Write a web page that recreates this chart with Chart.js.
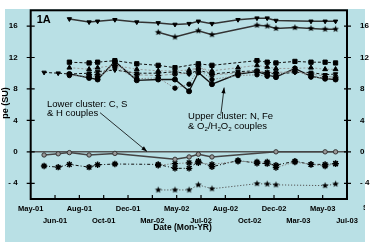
<!DOCTYPE html>
<html>
<head>
<meta charset="utf-8">
<script src="https://cdn.jsdelivr.net/npm/chart.js@4"></script>
<style>
  html, body { margin: 0; padding: 0; background: #fff; }
  #wrap { position: relative; width: 382px; height: 242px; overflow: hidden; }
  #bg { position: absolute; left: 5px; top: 9px; width: 360px; height: 233px; background: #b9e0e5; }
  #chart { position: absolute; left: 0; top: 0; }
</style>
</head>
<body>
<div id="wrap">
  <div id="bg"></div>
  <canvas id="chart" width="382" height="242"></canvas>
</div>
<script>
const X_TICK_LABELS = [
  "May-01", "Jun-01", "Aug-01", "Oct-01", "Dec-01", "Mar-02", "May-02",
  "Jul-02", "Aug-02", "Oct-02", "Dec-02", "Mar-03", "May-03", "Jul-03", "Sep-03"
];
const Y_TICKS = [-4, 0, 4, 8, 12, 16];
const Y_TICK_LABELS = ["- 4", "0", "4", "8", "12", "16"];

// sampling dates, in axis tick units (0 = May-01 ... 13 = Jul-03)
const SAMPLE_X = [0.55, 1.13, 1.59, 2.40, 2.75, 3.46, 4.36, 5.24, 5.93, 6.51,
                  6.89, 7.45, 8.52, 9.30, 9.72, 10.08, 10.86, 11.52, 12.10, 12.53];

// upper cluster
const topTri     = [null, null, 16.9, 16.5, 16.6, 16.8, 16.5, 16.4, 16.2, 16.3, 16.6, 16.3, 16.8, 17.0, 17.0, 16.7, null, 16.6, 16.6, 16.6];
const upperStar  = [null, null, null, null, null, null, null, 15.2, 14.6, null, 15.4, 14.9, null, 16.1, 16.0, 15.7, 15.8, 15.7, 15.6, 15.6];
const midSquare  = [null, null, 11.4, 11.3, 11.4, 11.6, 11.2, 11.0, 10.7, null, 11.2, 11.0, null, 11.6, 11.4, 11.3, 11.5, 11.4, 11.4, 11.3];
const midTriUp   = [null, null, 10.7, 10.5, 10.7, 11.0, 10.5, 10.3, 10.3, 10.4, 10.7, 10.3, 10.7, 11.0, 10.8, 10.6, 10.6, 10.7, 10.5, 10.5];
const midTriDown = [10.1, 10.0, 9.9, 10.0, 10.2, 10.4, 10.0, 10.0, 10.2, 9.9, 10.4, 9.9, 10.2, 10.3, 10.0, 9.9, 10.1, 10.1, 9.8, 9.9];
const midDot     = [null, null, 9.9, 9.4, 9.2, 11.5, 9.1, 9.2, 9.2, 7.7, 10.1, 8.6, 9.9, 10.2, 9.8, 9.5, 10.6, 9.6, 9.3, 9.2];
const midDotGrey = [null, null, 9.7, 9.6, 9.5, 10.8, 9.3, 9.4, 8.1, 8.6, 10.5, 9.2, 9.7, 9.8, 9.6, 9.7, 10.4, 9.5, 9.4, 9.3];
const midStar    = [null, null, null, 9.8, 9.8, 11.0, 9.8, 9.7, 9.9, 10.0, 10.9, 9.8, 10.0, 10.3, 10.1, 10.1, 10.2, 9.9, 9.6, 9.5];

// lower cluster
const lowCircle  = [-0.4, -0.25, -0.1, -0.4, null, -0.2, null, null, -0.95, -0.65, -0.3, -0.65, null, null, null, 0.0, null, null, 0.0, 0.0];
const lowStarA   = [-1.8, -1.95, -1.6, -1.95, -1.65, -1.55, null, -1.6, -2.1, -2.1, -1.2, -1.9, -1.1, -1.45, -1.5, -1.7, -1.2, -1.6, -1.6, -1.5];
const lowStarB   = [null, null, null, null, null, null, null, -1.7, -1.5, -1.4, -1.4, -1.6, -1.2, -1.3, -1.3, -2.0, -1.3, -1.6, -1.8, -1.5];
const bottomStar = [null, null, null, null, null, null, null, -4.85, -4.85, -4.85, -4.2, -4.7, null, -4.05, -4.1, -4.2, null, null, -4.3, -4.1];

const FONT = '"Liberation Sans", Arial, sans-serif';

function starImage(r, color) {
  const c = document.createElement("canvas");
  c.width = c.height = r * 2 + 2;
  const g = c.getContext("2d");
  g.fillStyle = color;
  g.beginPath();
  for (let i = 0; i < 10; i++) {
    const a = -Math.PI / 2 + i * Math.PI / 5;
    const rr = i % 2 ? r * 0.45 : r;
    g.lineTo(r + 1 + rr * Math.cos(a), r + 1 + rr * Math.sin(a));
  }
  g.closePath();
  g.fill();
  return c;
}

function series(values, style) {
  return Object.assign({
    data: SAMPLE_X.map((x, i) => ({ x, y: values[i] })).filter((p) => p.y !== null),
    fill: false,
    tension: 0,
    spanGaps: true,
    borderColor: "#222",
    borderWidth: 1,
    pointRadius: 2.5,
    pointBackgroundColor: "#000",
    pointBorderColor: "#000",
    pointBorderWidth: 1
  }, style);
}

const STAR = starImage(3.5, "#000");

const datasets = [
  series(topTri, { borderColor: "#333", borderWidth: 1.5, pointStyle: "triangle", rotation: 180, pointRadius: 2.5 }),
  series(upperStar, { borderColor: "#333", borderWidth: 1.5, pointStyle: STAR }),
  series(midDotGrey, { borderColor: "#888", borderDash: [1.5, 1.5], pointStyle: "circle", pointRadius: 2.2 }),
  series(midStar, { borderColor: "#999", borderDash: [3, 2], pointStyle: "star", pointRadius: 3, pointBorderWidth: 1.3 }),
  series(midTriUp, { borderColor: "#999", borderDash: [2, 2], pointStyle: "triangle", pointRadius: 2.8 }),
  series(midTriDown, { borderColor: "#111", borderDash: [3, 2], pointStyle: "triangle", rotation: 180, pointRadius: 2.5 }),
  series(midSquare, { borderColor: "#111", borderDash: [3, 2], pointStyle: "rect", pointRadius: 3 }),
  series(midDot, { borderColor: "#111", borderWidth: 1.3, pointStyle: "circle", pointRadius: 2.5 }),
  series(lowCircle, { borderColor: "#444", borderWidth: 1.5, pointStyle: "circle", pointRadius: 2.2,
                      pointBackgroundColor: "#999", pointBorderColor: "#333" }),
  series(lowStarB, { borderColor: "#888", borderDash: [1.5, 1.5], pointStyle: "star", pointRadius: 3.2, pointBorderWidth: 1.4 }),
  series(lowStarA, { borderColor: "#111", borderDash: [3, 2, 1, 2], pointStyle: "star", pointRadius: 3.2, pointBorderWidth: 1.4 }),
  series(bottomStar, { borderColor: "#555", borderDash: [1.2, 1.8], pointStyle: STAR })
];

function drawText(ctx, x, y, parts, size, bold) {
  // parts: [text, isSubscript]
  let cx = x;
  parts.forEach(([t, sub]) => {
    const fs = sub ? size * 0.65 : size;
    ctx.font = (bold ? "bold " : "") + fs + "px " + FONT;
    ctx.fillText(t, cx, sub ? y + size * 0.25 : y);
    cx += ctx.measureText(t).width;
  });
}

function arrow(ctx, x1, y1, x2, y2) {
  const a = Math.atan2(y2 - y1, x2 - x1);
  ctx.beginPath();
  ctx.moveTo(x1, y1);
  ctx.lineTo(x2, y2);
  ctx.stroke();
  ctx.beginPath();
  ctx.moveTo(x2, y2);
  ctx.lineTo(x2 - 6 * Math.cos(a - 0.35), y2 - 6 * Math.sin(a - 0.35));
  ctx.lineTo(x2 - 6 * Math.cos(a + 0.35), y2 - 6 * Math.sin(a + 0.35));
  ctx.closePath();
  ctx.fill();
}

const zeroLinePlugin = {
  id: "zeroLine",
  beforeDatasetsDraw(chart) {
    const { ctx, chartArea, scales } = chart;
    const y0 = scales.y.getPixelForValue(0);
    ctx.save();
    ctx.strokeStyle = "#555";
    ctx.lineWidth = 1.5;
    ctx.beginPath();
    ctx.moveTo(chartArea.left, y0);
    ctx.lineTo(chartArea.right, y0);
    ctx.stroke();
    ctx.restore();
  }
};

const framePlugin = {
  id: "frame",
  afterDraw(chart) {
    const { ctx, chartArea: a, scales } = chart;
    const x = scales.x, y = scales.y;
    ctx.save();
    ctx.strokeStyle = "#000";
    ctx.fillStyle = "#000";

    // plot frame
    ctx.lineWidth = 2;
    ctx.strokeRect(a.left, a.top, a.right - a.left, a.bottom - a.top);

    // tick marks
    ctx.lineWidth = 1.2;
    ctx.beginPath();
    Y_TICKS.forEach((v) => {
      const py = y.getPixelForValue(v);
      ctx.moveTo(a.left - 4, py); ctx.lineTo(a.left + 4, py);
      ctx.moveTo(a.right - 3, py); ctx.lineTo(a.right + 4, py);
    });
    for (let i = 1; i < 13; i++) {
      const px = x.getPixelForValue(i);
      ctx.moveTo(px, a.bottom); ctx.lineTo(px, a.bottom - 4);
    }
    ctx.stroke();

    // last date label, cut by the picture edge
    ctx.save();
    ctx.beginPath();
    ctx.rect(0, 0, 365, 242);
    ctx.clip();
    ctx.font = "bold 7.5px " + FONT;
    ctx.textAlign = "center";
    ctx.textBaseline = "middle";
    ctx.fillText(X_TICK_LABELS[14], x.getPixelForValue(14) + 4, 208);
    ctx.restore();

    // axis titles
    ctx.textAlign = "center";
    ctx.textBaseline = "middle";
    ctx.font = "bold 8.5px " + FONT;
    ctx.fillText("Date (Mon-YR)", 182.5, 228);
    ctx.save();
    ctx.translate(6, 103);
    ctx.rotate(-Math.PI / 2);
    ctx.font = "bold 9px " + FONT;
    ctx.fillText("pe (SU)", 0, 0);
    ctx.restore();

    // panel label
    ctx.textAlign = "left";
    drawText(ctx, a.left + 6, a.top + 10, [["1A", false]], 11, true);

    // cluster notes
    drawText(ctx, x.getPixelForValue(0.67), y.getPixelForValue(6.0), [["Lower cluster: C, S", false]], 9.5, false);
    drawText(ctx, x.getPixelForValue(0.67), y.getPixelForValue(4.85), [["& H couples", false]], 9.5, false);
    drawText(ctx, x.getPixelForValue(6.47), y.getPixelForValue(4.47), [["Upper cluster: N, Fe", false]], 9.5, false);
    drawText(ctx, x.getPixelForValue(6.47), y.getPixelForValue(3.19),
      [["& O", false], ["2", true], ["/H", false], ["2", true], ["O", false], ["2", true], [" couples", false]], 9.5, false);

    ctx.lineWidth = 0.8;
    arrow(ctx, x.getPixelForValue(2.85), y.getPixelForValue(4.98), x.getPixelForValue(4.78), y.getPixelForValue(0.05));
    arrow(ctx, x.getPixelForValue(7.82), y.getPixelForValue(4.85), x.getPixelForValue(7.95), y.getPixelForValue(8.17));
    ctx.restore();
  }
};

const yTickOpts = {
  color: "#000",
  padding: 5,
  font: { family: FONT, size: 8, weight: "bold" },
  callback: (v) => Y_TICK_LABELS[Y_TICKS.indexOf(v)]
};

new Chart(document.getElementById("chart"), {
  type: "line",
  data: { datasets },
  options: {
    responsive: false,
    animation: false,
    layout: { padding: { top: 10.3, left: 0, right: 0, bottom: 0 } },
    plugins: { legend: { display: false }, tooltip: { enabled: false } },
    scales: {
      x: {
        type: "linear",
        min: 0,
        max: 13,
        afterBuildTicks: (s) => { s.ticks = X_TICK_LABELS.slice(0, 14).map((_, i) => ({ value: i })); },
        afterFit: (s) => { s.height = 43; },
        grid: { display: false },
        border: { display: false },
        ticks: {
          autoSkip: false,
          maxRotation: 0,
          minRotation: 0,
          padding: -4,
          color: "#000",
          font: { family: FONT, size: 7.5, weight: "bold", lineHeight: 1.6 },
          callback: (v, i) => (i % 2 ? ["", X_TICK_LABELS[i]] : [X_TICK_LABELS[i], ""])
        }
      },
      y: {
        position: "left",
        min: -6,
        max: 18,
        afterBuildTicks: (s) => { s.ticks = Y_TICKS.map((v) => ({ value: v })); },
        afterFit: (s) => { s.width = 30.7; },
        grid: { display: false },
        border: { display: false },
        ticks: yTickOpts
      },
      y2: {
        position: "right",
        min: -6,
        max: 18,
        afterBuildTicks: (s) => { s.ticks = Y_TICKS.map((v) => ({ value: v })); },
        afterFit: (s) => { s.width = 35; },
        grid: { display: false },
        border: { display: false },
        ticks: yTickOpts
      }
    }
  },
  plugins: [zeroLinePlugin, framePlugin]
});
</script>
</body>
</html>
